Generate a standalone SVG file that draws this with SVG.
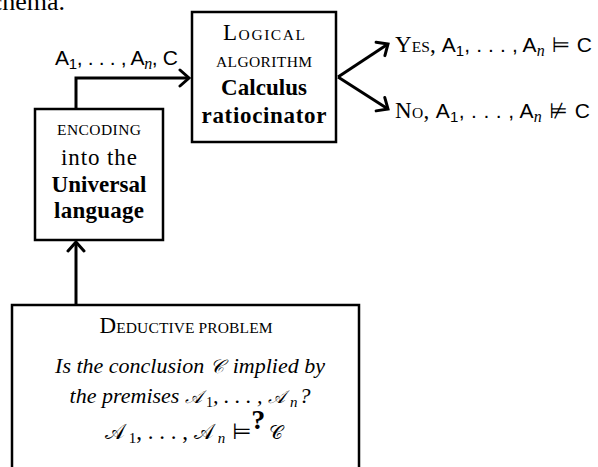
<svg xmlns="http://www.w3.org/2000/svg" width="598" height="467" viewBox="0 0 598 467">
<style>
.box{fill:#fff;stroke:#000;stroke-width:2.5}
.conn{fill:none;stroke:#000;stroke-width:3}
.rm{font-family:"Liberation Serif","DejaVu Serif",serif;font-size:23px;fill:#000}
.s{font-size:15.5px}
.bf{font-weight:bold}
.it{font-style:italic}
.sans{font-family:"Liberation Sans","DejaVu Sans",sans-serif;font-size:21px;fill:#000}
.mi{font-family:"Liberation Serif","DejaVu Serif",serif;font-style:italic}
.sym{font-family:"DejaVu Sans",sans-serif}
.ctr{text-anchor:middle}
</style>
<defs>
<marker id="ah" markerWidth="20" markerHeight="20" refX="14" refY="10" orient="auto" markerUnits="userSpaceOnUse">
<path d="M5,2 L14,10 L5,18" fill="none" stroke="#000" stroke-width="3" stroke-linecap="round" stroke-linejoin="miter"/>
</marker>
</defs>
<text class="rm" x="65" y="10" text-anchor="end" style="font-size:26px">schema.</text>
<g id="connectors">
<path class="conn" d="M76,109 V78 H189" marker-end="url(#ah)"/>
<path class="conn" d="M338,77 L388,44" marker-end="url(#ah)"/>
<path class="conn" d="M338,77 L388,109" marker-end="url(#ah)"/>
<path class="conn" d="M76,304 V242" marker-end="url(#ah)"/>
<text class="sans" x="55" y="65" textLength="123" lengthAdjust="spacing">A<tspan font-size="15" dy="4">1</tspan><tspan dy="-4">, . . . , A</tspan><tspan class="mi" font-size="16" dy="4">n</tspan><tspan dy="-4">, C</tspan></text>
</g>
<g id="logical">
<rect class="box" x="192" y="12" width="144" height="130"/>
<text class="rm ctr" x="264" y="40" textLength="82" lengthAdjust="spacing">L<tspan class="s">OGICAL</tspan></text>
<text class="rm ctr s" x="264" y="67" textLength="96" lengthAdjust="spacing">ALGORITHM</text>
<text class="rm bf ctr" x="264" y="95" textLength="86" lengthAdjust="spacing">Calculus</text>
<text class="rm bf ctr" x="264" y="123" textLength="125" lengthAdjust="spacing">ratiocinator</text>
</g>
<g id="encoding">
<rect class="box" x="35" y="109" width="128" height="131"/>
<text class="rm ctr s" x="99" y="135" textLength="84" lengthAdjust="spacing">ENCODING</text>
<text class="rm ctr" x="99" y="165" textLength="76" lengthAdjust="spacing">into the</text>
<text class="rm bf ctr" x="99" y="192" textLength="95" lengthAdjust="spacing">Universal</text>
<text class="rm bf ctr" x="99" y="218" textLength="90" lengthAdjust="spacing">language</text>
</g>
<g id="yes">
<text class="rm" x="395" y="52" textLength="197" lengthAdjust="spacing">Y<tspan class="s">ES</tspan>, <tspan class="sans">A<tspan font-size="15" dy="4">1</tspan><tspan dy="-4">, . . . , A</tspan><tspan class="mi" font-size="16" dy="4">n</tspan><tspan dy="-4" class="sym"> ⊨ </tspan>C</tspan></text>
</g>
<g id="no">
<text class="rm" x="395" y="118" textLength="195" lengthAdjust="spacing">N<tspan class="s">O</tspan>, <tspan class="sans">A<tspan font-size="15" dy="4">1</tspan><tspan dy="-4">, . . . , A</tspan><tspan class="mi" font-size="16" dy="4">n</tspan><tspan dy="-4" class="sym"> ⊭ </tspan>C</tspan></text>
</g>
<g id="deductive">
<rect class="box" x="12" y="305" width="347" height="200"/>
<text class="rm ctr" x="186" y="333" textLength="173" lengthAdjust="spacing">D<tspan class="s">EDUCTIVE PROBLEM</tspan></text>
<text class="rm it ctr" x="190" y="373" style="font-size:22px">Is the conclusion <tspan font-size="19">𝒞</tspan><tspan dx="9">implied by</tspan></text>
<text class="rm it ctr" x="190" y="403" style="font-size:22px">the premises <tspan font-size="18">𝒜</tspan><tspan font-style="normal" font-size="14" dx="4" dy="4">1</tspan><tspan dy="-4">, . . . , </tspan><tspan font-size="18">𝒜</tspan><tspan font-size="15" dx="5" dy="4">n</tspan><tspan dx="2" dy="-4">?</tspan></text>
<text class="rm ctr" x="194" y="439"><tspan font-size="21">𝒜</tspan><tspan font-size="15" dx="4" dy="4">1</tspan><tspan dy="-4">, . . . , </tspan><tspan font-size="21">𝒜</tspan><tspan class="it" font-size="15" dx="4" dy="4">n</tspan><tspan dy="-4" class="sym" font-size="22"> ⊨</tspan><tspan class="bf" font-size="28" dy="-10">?</tspan><tspan dy="10" dx="4" font-size="19">𝒞</tspan></text>
</g>
</svg>
